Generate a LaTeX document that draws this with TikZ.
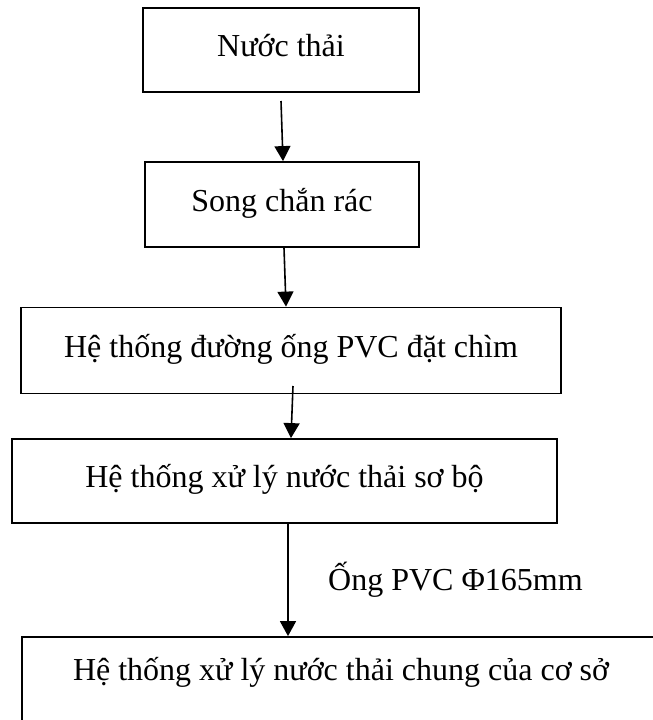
\documentclass[tikz,border=0pt]{standalone}
\usepackage{fontspec}
\setmainfont{Liberation Serif}
\usetikzlibrary{arrows.meta}
\begin{document}
\begin{tikzpicture}[x=1pt,y=-1pt,
  stage/.style={draw, line width=1.8pt, inner sep=0pt,
    font=\fontsize{32}{38}\selectfont, text height=23pt, text depth=10pt},
  flow/.style={line width=1.6pt, -{Triangle[length=15pt,width=16pt]}},
  note/.style={font=\fontsize{32}{38}\selectfont, anchor=base west, inner sep=0pt}]
\clip (0,0) rectangle (653,720);

% process stages
\node[stage, minimum width=276pt, minimum height=84pt] (b1) at (281,50) {Nước thải};
\node[stage, minimum width=274pt, minimum height=85pt] (b2) at (282,204.5) {Song chắn rác};
\node[stage, minimum width=540pt, minimum height=86pt] (b3) at (291,350.5) {Hệ thống đường ống PVC đặt chìm};
\node[stage, minimum width=545pt, minimum height=84pt] (b4) at (284.5,481) {Hệ thống xử lý nước thải sơ bộ};
\node[stage, minimum width=638pt, minimum height=100pt, text depth=37pt] (b5) at (341,687) {Hệ thống xử lý nước thải chung của cơ sở};

% flow arrows
\coordinate (s1) at (281,101);
\coordinate (s3) at (293,386);
\draw[flow] (s1) -- ([xshift=1pt]b2.north);
\draw[flow] ([xshift=2pt]b2.south) -- ([xshift=-5pt]b3.north);
\draw[flow] (s3) -- ([xshift=6.5pt]b4.north);
\draw[flow] ([xshift=3.5pt]b4.south) -- ([xshift=3.5pt]b4.south |- b5.north);

% pipe label
\node[note] (lbl) at (328,590) {Ống PVC Φ165mm};
\end{tikzpicture}
\end{document}
